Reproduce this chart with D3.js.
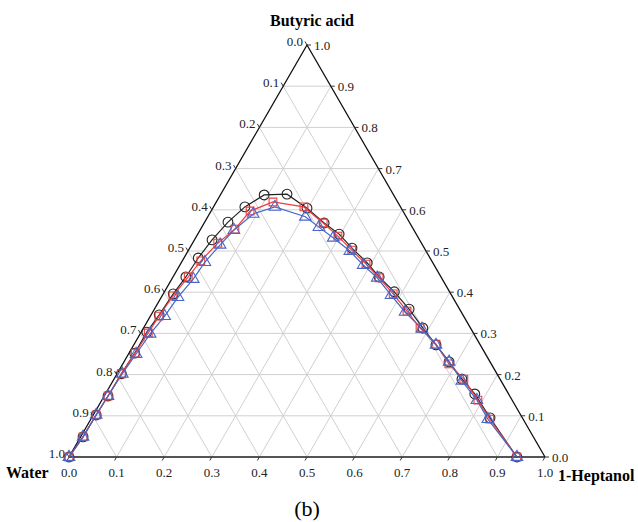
<!DOCTYPE html>
<html>
<head>
<meta charset="utf-8">
<script src="https://cdn.jsdelivr.net/npm/d3@7"></script>
<style>
  body { margin: 0; background: #fff; }
  text { font-family: "Liberation Serif", "Times New Roman", serif; }
</style>
</head>
<body>
<script>
// mass fractions: heptanol (h) and butyric acid (b); water = 1 - h - b
var blackH = [0, 0.005, 0.006, 0.008, 0.009, 0.012, 0.012, 0.017, 0.021, 0.027, 0.030, 0.037, 0.049, 0.066, 0.092,
              0.139, 0.198, 0.252, 0.297, 0.341, 0.391, 0.433, 0.483, 0.535, 0.587, 0.635, 0.683, 0.731, 0.776, 0.837, 0.941];
var blackB = [0, 0.049, 0.102, 0.148, 0.202, 0.252, 0.303, 0.345, 0.396, 0.437, 0.483, 0.527, 0.570, 0.607, 0.636,
              0.638, 0.604, 0.568, 0.541, 0.507, 0.471, 0.437, 0.401, 0.359, 0.313, 0.272, 0.231, 0.189, 0.153, 0.095, 0];

var redH = [0, 0.005, 0.006, 0.008, 0.009, 0.013, 0.016, 0.018, 0.023, 0.032, 0.039, 0.053, 0.072, 0.082, 0.119,
            0.190, 0.250, 0.297, 0.343, 0.390, 0.434, 0.483, 0.533, 0.581, 0.634, 0.685, 0.735, 0.790, 0.838, 0.941];
var redB = [0, 0.049, 0.102, 0.148, 0.202, 0.252, 0.301, 0.342, 0.391, 0.437, 0.476, 0.519, 0.553, 0.597, 0.619,
            0.607, 0.568, 0.536, 0.502, 0.468, 0.435, 0.396, 0.354, 0.313, 0.274, 0.226, 0.189, 0.138, 0.092, 0];

var blueH = [0, 0.005, 0.006, 0.008, 0.011, 0.016, 0.021, 0.030, 0.035, 0.045, 0.049, 0.060, 0.071, 0.092, 0.129,
             0.205, 0.246, 0.289, 0.340, 0.385, 0.430, 0.480, 0.530, 0.586, 0.635, 0.683, 0.733, 0.788, 0.834, 0.941];
var blueB = [0, 0.049, 0.102, 0.148, 0.202, 0.250, 0.299, 0.342, 0.388, 0.432, 0.473, 0.515, 0.551, 0.590, 0.607,
             0.583, 0.558, 0.532, 0.500, 0.466, 0.435, 0.393, 0.352, 0.311, 0.272, 0.231, 0.185, 0.138, 0.092, 0];

var tickValues = d3.range(0, 11).map(function (i) { return i / 10; });
var tickLabels = tickValues.map(function (d) { return d.toFixed(1); });
var vertexNames = ['Water', '1-Heptanol', 'Butyric acid'];

var width = 638;
var height = 522;
var svg = d3.select('body')
            .append('svg')
            .attr('width', width)
            .attr('height', height);

var xScale = d3.scaleLinear().domain([0, 1]).range([69, 545]);
var yScale = d3.scaleLinear().domain([0, 1]).range([457, 45]);

// ternary point from heptanol and acid fractions
function pt(h, b) {
  return [xScale(h + b / 2), yScale(b)];
}

var line = d3.line();

// grid lines
var grid = svg.append('g');
tickValues.slice(1, 10).forEach(function (v) {
  // constant acid (horizontal)
  grid.append('path').attr('d', line([pt(0, v), pt(1 - v, v)]));
  // constant heptanol
  grid.append('path').attr('d', line([pt(v, 0), pt(v, 1 - v)]));
  // constant water
  grid.append('path').attr('d', line([pt(1 - v, 0), pt(0, 1 - v)]));
});
grid.selectAll('path').attr('stroke', '#d0d0d0').attr('stroke-width', 1).attr('fill', 'none');

// triangle edges
svg.append('path').attr('d', line([pt(0, 0), pt(1, 0)]))
   .attr('stroke', '#555').attr('stroke-width', 2).attr('fill', 'none');
svg.append('path').attr('d', line([pt(0, 0), pt(0, 1), pt(1, 0)]))
   .attr('stroke', '#111').attr('stroke-width', 1.3).attr('fill', 'none');

// ticks + labels
var axes = svg.append('g').attr('fill', '#222').attr('font-size', 13);
tickValues.forEach(function (v, i) {
  // bottom: heptanol
  var p = pt(v, 0);
  axes.append('path').attr('d', line([p, [p[0] - 2, p[1] + 3.5]])).attr('stroke', '#333');
  axes.append('text').attr('x', p[0]).attr('y', p[1] + 20)
      .attr('text-anchor', 'middle').text(tickLabels[i]);
  // left: water
  var q = pt(0, 1 - v);
  axes.append('path').attr('d', line([q, [q[0] - 2, q[1] - 3.5]])).attr('stroke', '#333');
  axes.append('text').attr('x', q[0] - 4).attr('y', q[1] + 1)
      .attr('text-anchor', 'end').text(tickLabels[i]);
  // right: butyric acid
  var r = pt(1 - v, v);
  axes.append('path').attr('d', line([r, [r[0] + 4, r[1]]])).attr('stroke', '#333');
  axes.append('text').attr('x', r[0] + 7).attr('y', r[1] + 5)
      .attr('text-anchor', 'start').text(tickLabels[i]);
});

// vertex names
svg.append('text').attr('x', 6).attr('y', 478).attr('font-weight', 'bold')
   .attr('font-size', 16).text(vertexNames[0]);
svg.append('text').attr('x', 558).attr('y', 481).attr('font-weight', 'bold')
   .attr('font-size', 16).text(vertexNames[1]);
svg.append('text').attr('x', 312).attr('y', 26).attr('font-weight', 'bold')
   .attr('font-size', 16).attr('text-anchor', 'middle').text(vertexNames[2]);

svg.append('text').attr('x', 307).attr('y', 516).attr('font-size', 22)
   .attr('text-anchor', 'middle').text('(b)');

function series(hs, bs, color, shape, size) {
  var pts = hs.map(function (h, i) { return pt(h, bs[i]); });
  svg.append('path').attr('d', line(pts))
     .attr('stroke', color).attr('stroke-width', 1.2).attr('fill', 'none');
  var sym = d3.symbol().type(shape).size(size);
  svg.append('g').selectAll('path')
     .data(pts)
     .enter()
     .append('path')
     .attr('transform', function (d) { return 'translate(' + d[0] + ',' + d[1] + ')'; })
     .attr('d', sym)
     .attr('fill', 'none')
     .attr('stroke', color)
     .attr('stroke-width', 1.1);
}

series(blackH, blackB, '#222', d3.symbolCircle, 75);
series(redH, redB, '#f03c3c', d3.symbolSquare, 60);
series(blueH, blueB, '#4866c8', d3.symbolTriangle, 58);
</script>
</body>
</html>
